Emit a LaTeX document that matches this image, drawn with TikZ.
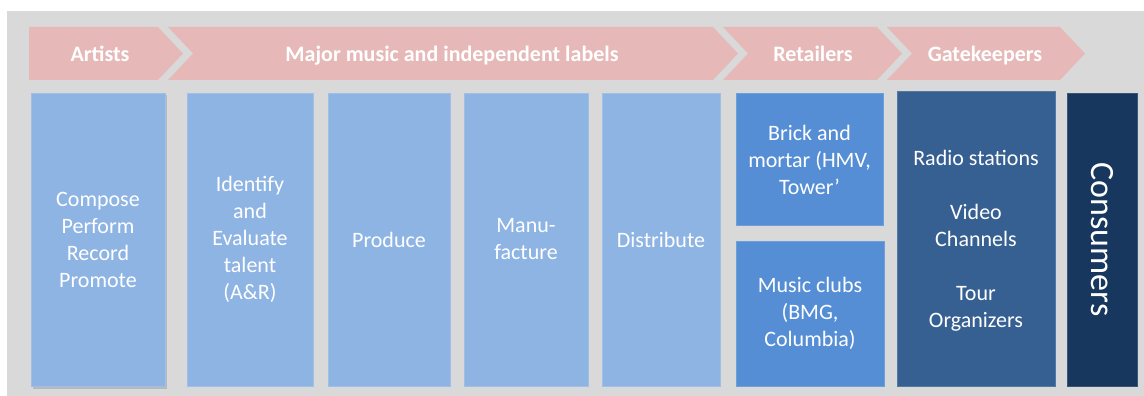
\documentclass[tikz,border=0pt]{standalone}
\usepackage{fontspec}
\setmainfont{Carlito}
\usetikzlibrary{shadows}
\definecolor{bggray}{HTML}{D9D9D9}
\definecolor{chev}{HTML}{E6B9B8}
\definecolor{lblue}{HTML}{8EB4E3}
\definecolor{mblue}{HTML}{558ED5}
\definecolor{dblue}{HTML}{376092}
\definecolor{navy}{HTML}{17375E}
\tikzset{
  chevron/.style={fill=chev, draw=none},
  chevlabel/.style={text=white, font=\fontsize{22}{26}\selectfont\bfseries, inner sep=0pt, anchor=base},
  boxbase/.style={inner sep=0pt, align=center, text=white,
     font=\fontsize{22}{27}\selectfont, line width=0.6pt},
  lbox/.style={boxbase, fill=lblue, draw=lblue!85!white},
  mbox/.style={boxbase, fill=mblue, draw=mblue!85!white},
  dbox/.style={boxbase, fill=dblue, draw=dblue!85!white},
  nbox/.style={boxbase, fill=navy, draw=navy!85!white},
}
\begin{document}
\begin{tikzpicture}[x=1pt,y=-1pt]
\useasboundingbox (0,0) rectangle (1144,396);
\fill[white] (0,0) rectangle (1144,396);
\fill[bggray] (7,11) rectangle (1144,396);
% chevrons
\fill[chevron] (29,27) -- (158,27) -- (183,53.5) -- (158,80) -- (29,80) -- cycle;
\fill[chevron] (168,27) -- (713,27) -- (738,53.5) -- (713,80) -- (168,80) -- (193,53.5) -- cycle;
\fill[chevron] (723,27) -- (877,27) -- (902,53.5) -- (877,80) -- (723,80) -- (748,53.5) -- cycle;
\fill[chevron] (887,27) -- (1060,27) -- (1085,53.5) -- (1060,80) -- (887,80) -- (912,53.5) -- cycle;
\node[chevlabel] (hArt) at (100,62) {Artists};
\node[chevlabel] (hMaj) at (452,62) {Major music and independent labels};
\node[chevlabel] (hRet) at (813,62) {Retailers};
\node[chevlabel] (hGate) at (985,62) {Gatekeepers};
% boxes
\node[lbox, minimum width=134pt, minimum height=293pt,
      drop shadow={shadow xshift=1.5pt, shadow yshift=-2.5pt, opacity=0.35}]
  (b1) at (98,239.5) {Compose\\Perform\\Record\\Promote};
\node[lbox, minimum width=126pt, minimum height=293pt]
  (b2) at (250,239.5) {Identify\\and\\Evaluate\\talent\\(A\&R)};
\node[lbox, minimum width=122pt, minimum height=293pt]
  (b3) at (389,239.5) {Produce};
\node[lbox, minimum width=124pt, minimum height=293pt]
  (b4) at (526,239.5) {Manu-\\facture};
\node[lbox, minimum width=118pt, minimum height=293pt]
  (b5) at (661,239.5) {Distribute};
\node[mbox, minimum width=147pt, minimum height=132pt]
  (b6) at (809.5,159.5) {Brick and\\mortar (HMV,\\Tower’};
\node[mbox, minimum width=148pt, minimum height=145pt]
  (b7) at (810,313.5) {Music clubs\\(BMG,\\Columbia)};
\node[dbox, minimum width=158pt, minimum height=295pt]
  (b8) at (976,238.5) {};
\node[boxbase, draw=none] (t8) at (976,241)
  {Radio stations\\[27pt]Video\\Channels\\[27pt]Tour\\Organizers};
\node[nbox, minimum width=70pt, minimum height=293pt]
  (b9) at (1102,239.5) {};
\node[text=white, font=\fontsize{34}{40}\selectfont, rotate=-90, inner sep=0pt]
  (cons) at (b9.center) {Consumers};
\end{tikzpicture}
\end{document}
